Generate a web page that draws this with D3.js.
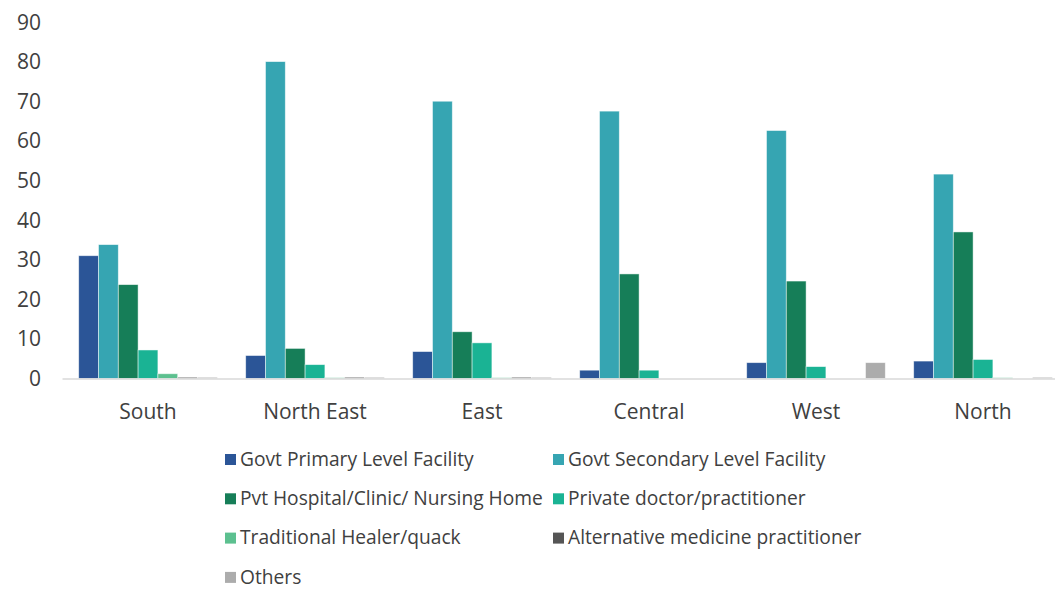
<!DOCTYPE html>
<html>
<head>
<meta charset="utf-8">
<script src="https://cdn.jsdelivr.net/npm/d3@7"></script>
<style>
  body { margin: 0; background: #fff; }
  svg { display: block; font-family: 'Open Sans', 'Noto Sans', sans-serif; }
</style>
</head>
<body>
<svg id="chart" width="1055" height="590"></svg>
<script>
// regions along the x axis
const regions = ['South', 'North East', 'East', 'Central', 'West', 'North']

const seriesNames = [
  'Govt Primary Level Facility',
  'Govt Secondary Level Facility',
  'Pvt Hospital/Clinic/ Nursing Home',
  'Private doctor/practitioner',
  'Traditional Healer/quack',
  'Alternative medicine practitioner',
  'Others'
]

// one value per region, in the order above
const govtPrimary = [31, 5.8, 6.8, 2.1, 4.0, 4.4]
const govtSecondary = [33.8, 80, 70, 67.5, 62.6, 51.6]
const pvtHospital = [23.7, 7.6, 11.8, 26.4, 24.6, 37]
const privateDoctor = [7.2, 3.5, 9.0, 2.1, 3.0, 4.8]
const traditional = [1.2, 0.2, 0.2, 0, 0, 0.2]
const alternative = [0.3, 0.3, 0.3, 0, 0, 0]
const others = [0.3, 0.3, 0.3, 0, 4.0, 0.3]

const yTicks = [0, 10, 20, 30, 40, 50, 60, 70, 80, 90]
const colors = ['#2b5597', '#36a5b2', '#167e58', '#1ab394', '#5cc08f', '#555555', '#acacac']

const series = [govtPrimary, govtSecondary, pvtHospital, privateDoctor, traditional, alternative, others]

const svg = d3.select('#chart')
const margin = { top: 22, left: 64.5, bottom: 211.5 }
const plotBottom = 590 - margin.bottom

const x = d3.scaleBand()
  .domain(regions)
  .range([margin.left, margin.left + 167 * regions.length])
  .paddingInner(0.17)
  .paddingOuter(0.085)

const xs = d3.scaleBand()
  .domain(d3.range(series.length))
  .range([0, x.bandwidth()])

const y = d3.scaleLinear()
  .domain([0, 90])
  .range([plotBottom, margin.top])

// y tick labels (no axis line)
svg.append('g')
  .selectAll('text')
  .data(yTicks)
  .join('text')
  .attr('x', 41)
  .attr('y', d => y(d))
  .attr('dy', '0.36em')
  .attr('text-anchor', 'end')
  .attr('font-size', 21)
  .attr('fill', '#404040')
  .text(d => d)

// bars
const groups = svg.append('g')
  .selectAll('g')
  .data(regions)
  .join('g')
  .attr('transform', d => `translate(${x(d)},0)`)

groups.selectAll('rect')
  .data((r, ri) => series.map((s, si) => ({ si, v: s[ri] })))
  .join('rect')
  .attr('x', d => xs(d.si))
  .attr('width', xs.bandwidth())
  .attr('y', d => y(d.v))
  .attr('height', d => plotBottom - y(d.v))
  .attr('fill', d => colors[d.si])
  .attr('stroke', d => d.v > 0 ? 'rgba(255,255,255,0.6)' : 'none')
  .attr('stroke-width', 0.8)

// baseline
svg.append('line')
  .attr('x1', x.range()[0] - 2)
  .attr('x2', x.range()[1])
  .attr('y1', plotBottom + 0.5)
  .attr('y2', plotBottom + 0.5)
  .attr('stroke', '#d9d9d9')
  .attr('stroke-width', 1.5)

// category labels
svg.append('g')
  .selectAll('text')
  .data(regions)
  .join('text')
  .attr('x', d => x(d) + x.bandwidth() / 2)
  .attr('y', plotBottom + 40)
  .attr('text-anchor', 'middle')
  .attr('font-size', 21)
  .attr('fill', '#404040')
  .text(d => d)

// legend, two columns
const legend = svg.append('g')
  .selectAll('g')
  .data(seriesNames)
  .join('g')
  .attr('transform', (d, i) => `translate(${i % 2 === 0 ? 225 : 553},${459 + Math.floor(i / 2) * 39.3})`)

legend.append('rect')
  .attr('x', 0)
  .attr('y', -5)
  .attr('width', 11)
  .attr('height', 11)
  .attr('fill', (d, i) => colors[i])

legend.append('text')
  .attr('x', 15)
  .attr('dy', '0.35em')
  .attr('font-size', 19.2)
  .attr('fill', '#404040')
  .text(d => d)
</script>
</body>
</html>
